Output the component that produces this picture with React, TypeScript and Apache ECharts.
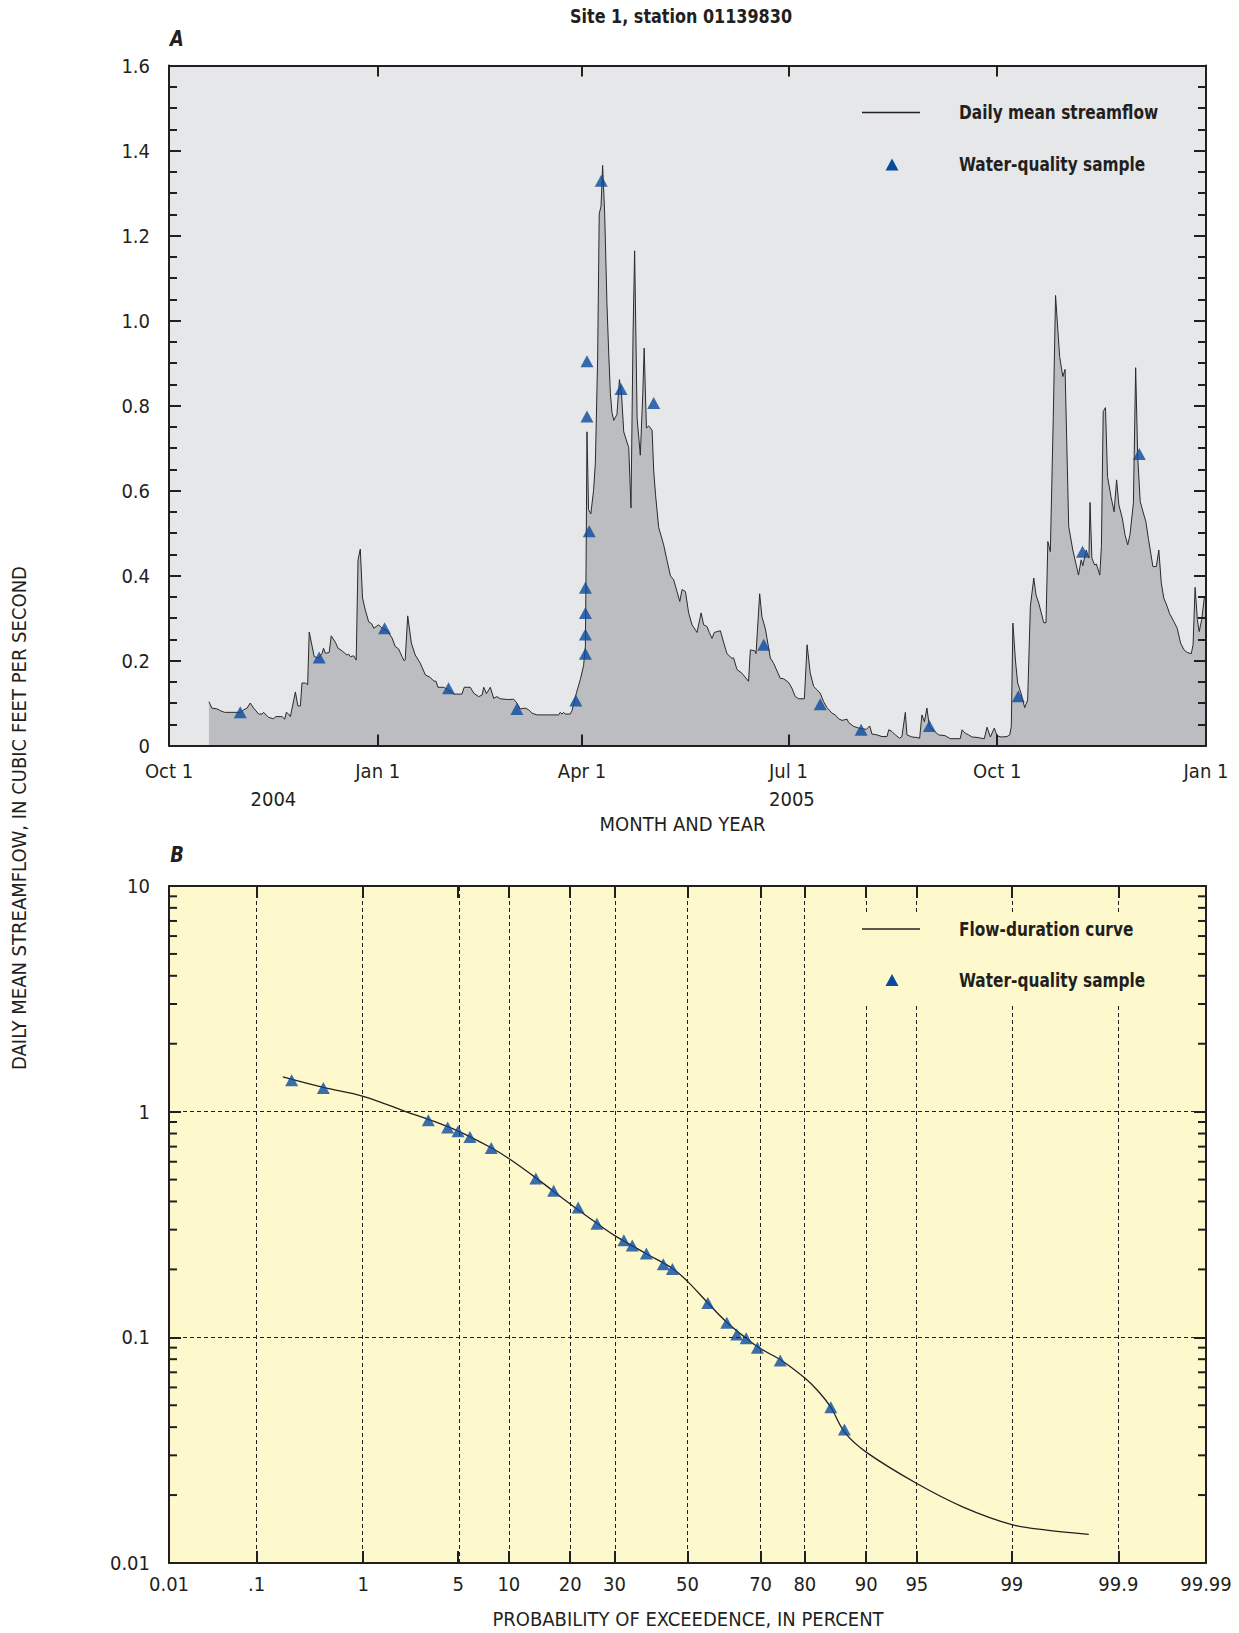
import React, { useEffect, useRef } from "react";
import * as echarts from "echarts";

const FONT = "'Liberation Sans Narrow', 'Arial Narrow', 'DejaVu Sans Condensed', 'Roboto Condensed', 'Liberation Sans', sans-serif";
const INK = "#231f20";
const BLUE = "#0a4a9f";
const BG_A = "#e6e7e8";
const FILL_A = "#bcbdc0";
const BG_B = "#fef9cc";

// ---------- Panel A: daily mean streamflow (days since 2004-10-01) ----------
const monthTickDays = [0, 92, 182, 273, 365, 457];
const monthTickLabels = ["Oct 1", "Jan 1", "Apr 1", "Jul 1", "Oct 1", "Jan 1"];
const yearLabelDays = [46, 274.5];
const yearLabels = ["2004", "2005"];

const flowDay = [
  17.6, 18.9, 21.2, 22.6, 24.5, 31.4, 32.9, 34.4, 35.8, 37.3, 39.5, 41.0, 41.7, 43.9, 46.1, 47.1, 49.8, 51.0, 51.7, 52.7,
  53.5, 55.7, 56.8, 57.9, 58.6, 60.1, 61.1, 61.8, 64.0, 65.9, 67.4, 68.1, 68.9, 70.6, 71.5, 73.3, 74.5, 76.2, 78.4, 79.2,
  79.9, 81.4, 82.5, 83.3, 84.3, 85.3, 86.5, 88.0, 89.4, 90.2, 92.4, 93.8, 96.1, 98.3, 99.7, 101.2, 102.7, 103.7, 104.1, 105.2,
  106.8, 108.5, 110.7, 113.0, 115.2, 116.6, 117.7, 118.5, 121.0, 123.2, 125.4, 129.1, 130.1, 132.8, 134.3, 136.5, 138.0, 138.7, 139.9, 141.6,
  143.1, 144.5, 146.0, 149.7, 151.9, 153.3, 154.8, 157.0, 158.5, 160.0, 162.2, 171.7, 172.4, 173.2, 173.9, 174.6, 176.8, 177.6, 179.1, 181.3,
  182.7, 183.5, 183.8, 184.2, 184.9, 185.9, 187.1, 187.9, 188.9, 189.6, 190.4, 191.1, 192.0, 193.0, 193.8, 194.5, 195.2, 196.0, 197.4, 198.5,
  199.4, 200.4, 202.6, 203.6, 204.5, 205.2, 206.3, 207.7, 208.8, 209.4, 210.4, 211.4, 212.9, 213.6, 214.4, 215.8, 218.0, 219.5, 221.0, 222.4,
  223.9, 225.1, 226.1, 227.6, 229.0, 230.5, 232.7, 234.5, 235.6, 237.1, 238.1, 239.3, 240.3, 243.0, 244.4, 245.9, 248.1, 248.8, 250.3, 252.5,
  253.9, 255.4, 256.2, 258.1, 258.7, 260.3, 261.3, 262.8, 265.0, 266.5, 269.4, 270.9, 273.1, 274.5, 276.0, 277.5, 280.0, 281.2, 282.6, 284.1,
  285.6, 287.0, 288.5, 290.0, 292.2, 293.6, 295.1, 296.6, 298.8, 299.5, 301.7, 303.9, 307.3, 308.8, 309.8, 312.0, 314.2, 316.4, 317.2, 318.6,
  320.1, 322.0, 323.0, 324.5, 325.2, 327.4, 329.6, 330.8, 331.8, 332.9, 334.0, 335.1, 337.0, 339.2, 342.1, 344.3, 348.7, 349.5, 350.9, 352.4,
  353.9, 356.1, 359.3, 360.5, 362.0, 363.7, 364.9, 366.7, 369.3, 370.5, 371.2, 371.9, 373.0, 374.0, 375.5, 377.1, 378.4, 379.6, 381.1, 382.1,
  383.3, 385.5, 386.5, 387.3, 388.4, 389.7, 390.7, 392.5, 393.9, 394.9, 396.5, 398.3, 399.8, 400.8, 402.0, 402.7, 404.2, 405.4, 405.9, 406.7,
  407.9, 408.7, 410.2, 410.9, 411.7, 412.7, 413.6, 415.1, 416.5, 417.6, 418.6, 420.1, 421.3, 422.5, 423.5, 425.0, 426.0, 426.9, 428.0, 429.4,
  430.5, 431.7, 433.6, 435.1, 436.2, 437.3, 438.4, 439.9, 440.9, 442.8, 444.3, 445.8, 447.3, 448.7, 450.5, 451.3, 452.2, 453.2, 454.0, 455.1,
  456.3, 457.0,
];
const flowCfs = [
  0.103, 0.088, 0.086, 0.082, 0.078, 0.078, 0.084, 0.088, 0.100, 0.088, 0.074, 0.074, 0.078, 0.066, 0.063, 0.068, 0.068, 0.062, 0.078, 0.074,
  0.068, 0.126, 0.093, 0.093, 0.147, 0.147, 0.143, 0.267, 0.209, 0.206, 0.216, 0.229, 0.217, 0.219, 0.258, 0.243, 0.229, 0.223, 0.213, 0.215,
  0.209, 0.211, 0.201, 0.437, 0.462, 0.347, 0.319, 0.291, 0.286, 0.276, 0.284, 0.276, 0.271, 0.253, 0.233, 0.227, 0.209, 0.199, 0.202, 0.305,
  0.241, 0.213, 0.194, 0.166, 0.160, 0.152, 0.151, 0.137, 0.137, 0.131, 0.121, 0.121, 0.137, 0.137, 0.123, 0.115, 0.119, 0.137, 0.122, 0.137,
  0.111, 0.115, 0.110, 0.108, 0.109, 0.100, 0.086, 0.088, 0.084, 0.076, 0.072, 0.072, 0.078, 0.074, 0.078, 0.074, 0.074, 0.082, 0.115, 0.156,
  0.188, 0.234, 0.417, 0.738, 0.555, 0.545, 0.600, 0.665, 0.912, 1.251, 1.269, 1.365, 1.251, 1.040, 0.921, 0.829, 0.784, 0.765, 0.779, 0.861,
  0.829, 0.738, 0.701, 0.559, 0.967, 1.164, 0.770, 0.683, 0.829, 0.935, 0.747, 0.752, 0.742, 0.646, 0.591, 0.513, 0.472, 0.435, 0.399, 0.390,
  0.362, 0.339, 0.367, 0.362, 0.312, 0.284, 0.266, 0.312, 0.284, 0.280, 0.266, 0.252, 0.266, 0.270, 0.243, 0.216, 0.205, 0.206, 0.179, 0.170,
  0.161, 0.151, 0.225, 0.223, 0.216, 0.357, 0.303, 0.275, 0.206, 0.193, 0.158, 0.157, 0.148, 0.135, 0.115, 0.110, 0.110, 0.237, 0.170, 0.139,
  0.131, 0.123, 0.103, 0.089, 0.076, 0.072, 0.063, 0.059, 0.062, 0.054, 0.045, 0.041, 0.038, 0.046, 0.027, 0.025, 0.021, 0.021, 0.037, 0.033,
  0.025, 0.017, 0.021, 0.078, 0.025, 0.020, 0.019, 0.017, 0.072, 0.056, 0.088, 0.045, 0.035, 0.025, 0.023, 0.016, 0.016, 0.037, 0.029, 0.025,
  0.020, 0.019, 0.016, 0.043, 0.020, 0.041, 0.023, 0.020, 0.021, 0.025, 0.045, 0.288, 0.201, 0.147, 0.123, 0.089, 0.107, 0.327, 0.394, 0.354,
  0.335, 0.289, 0.289, 0.480, 0.456, 0.774, 1.059, 0.915, 0.868, 0.885, 0.515, 0.460, 0.425, 0.401, 0.437, 0.423, 0.460, 0.441, 0.572, 0.441,
  0.425, 0.427, 0.401, 0.468, 0.786, 0.795, 0.633, 0.586, 0.550, 0.625, 0.566, 0.535, 0.496, 0.472, 0.496, 0.570, 0.889, 0.680, 0.574, 0.547,
  0.527, 0.484, 0.421, 0.421, 0.460, 0.382, 0.347, 0.327, 0.311, 0.292, 0.276, 0.241, 0.225, 0.219, 0.216, 0.237, 0.372, 0.296, 0.268, 0.296,
  0.350, 0.350,
];

const sampleDay = [31.4, 66.2, 95.0, 123.2, 153.3, 179.3, 183.5, 183.5, 183.5, 183.5, 185.2, 184.2, 184.2, 190.5, 199.2, 213.6, 262.1, 287.0, 305.0, 335.1, 374.3, 402.6, 427.6];
const sampleCfs = [0.078, 0.207, 0.276, 0.135, 0.086, 0.106, 0.216, 0.261, 0.312, 0.371, 0.504, 0.774, 0.904, 1.329, 0.839, 0.806, 0.237, 0.097, 0.037, 0.046, 0.116, 0.456, 0.686];

// ---------- Panel B: flow-duration curve ----------
const probTicks = [0.01, 0.1, 1, 5, 10, 20, 30, 50, 70, 80, 90, 95, 99, 99.9, 99.99];
const probTickLabels = ["0.01", ".1", "1", "5", "10", "20", "30", "50", "70", "80", "90", "95", "99", "99.9", "99.99"];
const probGridLines = [0.1, 1, 5, 10, 20, 30, 50, 70, 80, 90, 95, 99, 99.9];

const durationPct = [0.185, 0.45, 1, 2.38, 3.15, 5, 8, 10, 14, 20, 25.8, 30, 38.5, 45.7, 50, 55.8, 61, 66, 70, 75, 80, 82.5, 84.8, 87, 90, 95, 97.6, 99, 99.5, 99.8];
const durationCfs = [1.425, 1.28, 1.17, 0.98, 0.925, 0.82, 0.69, 0.62, 0.505, 0.39, 0.32, 0.283, 0.234, 0.202, 0.177, 0.142, 0.117, 0.1, 0.089, 0.079, 0.066, 0.058, 0.049, 0.038, 0.031, 0.0225, 0.0177, 0.0148, 0.014, 0.0134];

const samplePctB = [0.226, 0.45, 3.15, 4.27, 4.99, 5.93, 7.96, 13.84, 16.85, 21.65, 25.8, 32.4, 34.6, 38.4, 43.1, 45.7, 55.8, 61.1, 63.8, 66.3, 69.2, 74.7, 84.8, 86.98];
const sampleCfsB = [1.377, 1.274, 0.916, 0.85, 0.818, 0.772, 0.69, 0.506, 0.446, 0.376, 0.319, 0.269, 0.255, 0.235, 0.211, 0.201, 0.142, 0.116, 0.103, 0.099, 0.09, 0.079, 0.049, 0.039];

const logMinorTicks = [0.02, 0.03, 0.04, 0.05, 0.06, 0.07, 0.08, 0.09, 0.2, 0.3, 0.4, 0.5, 0.6, 0.7, 0.8, 0.9, 2, 3, 4, 5, 6, 7, 8, 9];

// inverse standard normal CDF (Acklam)
function normInv(p: number): number {
  const a = [-39.69683028665376, 220.9460984245205, -275.9285104469687, 138.357751867269, -30.66479806614716, 2.506628277459239];
  const b = [-54.47609879822406, 161.5858368580409, -155.6989798598866, 66.80131188771972, -13.28068155288572];
  const c = [-0.007784894002430293, -0.3223964580411365, -2.400758277161838, -2.549732539343734, 4.374664141464968, 2.938163982698783];
  const d = [0.007784695709041462, 0.3224671290700398, 2.445134137142996, 3.754408661907416];
  const pl = 0.02425;
  if (p < pl) {
    const q = Math.sqrt(-2 * Math.log(p));
    return (((((c[0] * q + c[1]) * q + c[2]) * q + c[3]) * q + c[4]) * q + c[5]) / ((((d[0] * q + d[1]) * q + d[2]) * q + d[3]) * q + 1);
  }
  if (p <= 1 - pl) {
    const q = p - 0.5;
    const r = q * q;
    return ((((((a[0] * r + a[1]) * r + a[2]) * r + a[3]) * r + a[4]) * r + a[5]) * q) / (((((b[0] * r + b[1]) * r + b[2]) * r + b[3]) * r + b[4]) * r + 1);
  }
  const q = Math.sqrt(-2 * Math.log(1 - p));
  return -(((((c[0] * q + c[1]) * q + c[2]) * q + c[3]) * q + c[4]) * q + c[5]) / ((((d[0] * q + d[1]) * q + d[2]) * q + d[3]) * q + 1);
}
const pz = (pct: number) => normInv(pct / 100);
const probZ = probTicks.map(pz);
const zMin = probZ[0];
const zMax = probZ[probZ.length - 1];

const labelStyle = { fontFamily: FONT, fontSize: 20, color: INK };

function buildOption() {
  const tickLine = { color: INK, width: 2 };
  const axisLineStyle = { show: true, onZero: false, lineStyle: { color: INK, width: 2 } };

  const monthFmt = (v: number) => {
    const i = monthTickDays.findIndex((d) => Math.abs(d - v) < 1e-6);
    return i >= 0 ? monthTickLabels[i] : "";
  };
  const yearFmt = (v: number) => {
    const i = yearLabelDays.findIndex((d) => Math.abs(d - v) < 1e-6);
    return i >= 0 ? yearLabels[i] : "";
  };
  const probFmt = (v: number) => {
    const i = probZ.findIndex((z) => Math.abs(z - v) < 1e-6);
    return i >= 0 ? probTickLabels[i] : "";
  };

  // ticks point into the plot: negative length flips the tick direction
  const xA = (position: string, labels: boolean) => ({
    type: "value",
    gridIndex: 0,
    position,
    min: 0,
    max: 457,
    z: 5,
    axisLine: axisLineStyle,
    axisTick: { show: true, inside: false, length: -11, customValues: monthTickDays, lineStyle: tickLine },
    axisLabel: labels
      ? { show: true, customValues: monthTickDays, formatter: monthFmt, margin: 15, ...labelStyle }
      : { show: false },
    splitLine: { show: false },
  });

  const xB = (position: string, labels: boolean) => ({
    type: "value",
    gridIndex: 1,
    position,
    min: zMin,
    max: zMax,
    z: 5,
    axisLine: axisLineStyle,
    axisTick: { show: true, inside: false, length: -12, customValues: probZ, lineStyle: tickLine },
    axisLabel: labels
      ? { show: true, customValues: probZ, formatter: probFmt, margin: 11, ...labelStyle }
      : { show: false },
    splitLine: { show: false },
  });

  const yA = (position: string, labels: boolean) => ({
    type: "value",
    gridIndex: 0,
    position,
    min: 0,
    max: 1.6,
    interval: 0.2,
    z: 5,
    axisLine: axisLineStyle,
    axisTick: { show: true, inside: false, length: -12, lineStyle: tickLine },
    minorTick: { show: true, splitNumber: 4, length: -8, lineStyle: tickLine },
    axisLabel: labels
      ? { show: true, margin: 19, formatter: (v: number) => (v === 0 ? "0" : v.toFixed(1)), ...labelStyle }
      : { show: false },
    splitLine: { show: false },
  });

  const yB = (position: string, labels: boolean) => ({
    type: "log",
    logBase: 10,
    gridIndex: 1,
    position,
    min: 0.01,
    max: 10,
    z: 5,
    axisLine: axisLineStyle,
    axisTick: { show: true, inside: false, length: -12, lineStyle: tickLine },
    axisLabel: labels
      ? { show: true, margin: 19, formatter: (v: number) => String(Number(v.toPrecision(3))), ...labelStyle }
      : { show: false },
    splitLine: labels ? { show: true, lineStyle: { color: INK, width: 1, type: [4, 3] } } : { show: false },
  });

  const triangle = (cx: number, cy: number) => ({
    type: "polygon",
    z: 12,
    shape: { points: [[cx, cy - 6], [cx - 6.5, cy + 6], [cx + 6.5, cy + 6]] },
    style: { fill: BLUE },
  });
  const txt = (text: string, x: number, y: number, extra: any = {}, el: any = {}) => ({
    type: "text",
    z: 12,
    x,
    y,
    ...el,
    style: {
      text,
      x: 0,
      y: 0,
      fill: INK,
      fontFamily: FONT,
      fontSize: 20,
      textAlign: "center",
      textVerticalAlign: "middle",
      align: "center",
      verticalAlign: "middle",
      ...extra,
    },
  });
  const bold = { fontWeight: "bold" };
  const boldLeft = { fontWeight: "bold", textAlign: "left", align: "left" };

  return {
    animation: false,
    backgroundColor: "#ffffff",
    grid: [
      { left: 169, top: 65.5, width: 1037, height: 680, show: true, backgroundColor: BG_A, borderWidth: 0 },
      { left: 169, top: 886, width: 1037, height: 677, show: true, backgroundColor: BG_B, borderWidth: 0 },
    ],
    xAxis: [
      xA("bottom", true),
      xA("top", false),
      {
        type: "value",
        gridIndex: 0,
        position: "bottom",
        min: 0,
        max: 457,
        axisLine: { show: false, onZero: false },
        axisTick: { show: false },
        axisLabel: { show: true, customValues: yearLabelDays, formatter: yearFmt, margin: 43, ...labelStyle },
        splitLine: { show: false },
      },
      xB("bottom", true),
      xB("top", false),
    ],
    yAxis: [yA("left", true), yA("right", false), yB("left", true), yB("right", false)],
    series: [
      {
        name: "Daily mean streamflow",
        type: "line",
        xAxisIndex: 0,
        yAxisIndex: 0,
        data: flowDay.map((d, i) => [d, flowCfs[i]]),
        symbol: "none",
        showSymbol: false,
        lineStyle: { color: "#2a2a2a", width: 1 },
        areaStyle: { color: FILL_A, opacity: 1 },
        z: 2,
      },
      {
        name: "Water-quality sample",
        type: "scatter",
        xAxisIndex: 0,
        yAxisIndex: 0,
        data: sampleDay.map((d, i) => [d, sampleCfs[i]]),
        symbol: "triangle",
        symbolSize: [13, 12],
        itemStyle: { color: BLUE },
        z: 3,
      },
      {
        name: "Flow-duration curve",
        type: "line",
        xAxisIndex: 3,
        yAxisIndex: 2,
        data: durationPct.map((p, i) => [pz(p), durationCfs[i]]),
        symbol: "none",
        showSymbol: false,
        smooth: 0.35,
        lineStyle: { color: INK, width: 1.3 },
        z: 3,
        markLine: {
          silent: true,
          symbol: ["none", "none"],
          label: { show: false },
          lineStyle: { color: INK, width: 1, type: [4, 3] },
          data: probGridLines.map((p) => ({ xAxis: pz(p) })),
          z: 1,
        },
      },
      {
        name: "Water-quality sample (duration)",
        type: "scatter",
        xAxisIndex: 3,
        yAxisIndex: 2,
        data: samplePctB.map((p, i) => [pz(p), sampleCfsB[i]]),
        symbol: "triangle",
        symbolSize: [13, 12],
        itemStyle: { color: BLUE },
        z: 4,
      },
      {
        name: "minor log ticks",
        type: "custom",
        xAxisIndex: 3,
        yAxisIndex: 2,
        silent: true,
        clip: false,
        z: 6,
        data: logMinorTicks.map((v) => [zMin, v]),
        encode: { x: 0, y: 1 },
        renderItem: (_params: any, api: any) => {
          const v = api.value(1);
          const pl = api.coord([zMin, v]);
          const pr = api.coord([zMax, v]);
          return {
            type: "group",
            children: [
              { type: "line", shape: { x1: pl[0], y1: pl[1], x2: pl[0] + 8, y2: pl[1] }, style: { stroke: INK, lineWidth: 2 } },
              { type: "line", shape: { x1: pr[0], y1: pr[1], x2: pr[0] - 8, y2: pr[1] }, style: { stroke: INK, lineWidth: 2 } },
            ],
          };
        },
      },
    ],
    graphic: [
      txt("Site 1, station 01139830", 681, 16, bold, { scaleX: 0.89 }),
      txt("A", 177, 38.5, { fontWeight: "bold", fontStyle: "italic", fontSize: 22 }, { scaleX: 0.9 }),
      txt("B", 177, 855, { fontWeight: "bold", fontStyle: "italic", fontSize: 22 }, { scaleX: 0.9 }),
      // legend A
      { type: "line", z: 12, shape: { x1: 862, y1: 112.5, x2: 920, y2: 112.5 }, style: { stroke: INK, lineWidth: 1.3 } },
      txt("Daily mean streamflow", 959, 112.5, boldLeft, { scaleX: 0.855 }),
      triangle(892, 164.5),
      txt("Water-quality sample", 959, 164.5, boldLeft, { scaleX: 0.855 }),
      // legend B
      { type: "rect", z: 11, shape: { x: 845, y: 913, width: 300, height: 92 }, style: { fill: BG_B } },
      { type: "line", z: 12, shape: { x1: 862, y1: 929, x2: 920, y2: 929 }, style: { stroke: INK, lineWidth: 1.3 } },
      txt("Flow-duration curve", 959, 929, boldLeft, { scaleX: 0.855 }),
      triangle(892, 980),
      txt("Water-quality sample", 959, 980, boldLeft, { scaleX: 0.855 }),
      // axis titles
      txt("MONTH AND YEAR", 682.5, 824),
      txt("PROBABILITY OF EXCEEDENCE, IN PERCENT", 688, 1619),
      txt("DAILY MEAN STREAMFLOW, IN CUBIC FEET PER SECOND", 19, 818, {}, { rotation: Math.PI / 2 }),
    ],
  };
}

export default function App() {
  const ref = useRef<HTMLDivElement>(null);
  useEffect(() => {
    if (!ref.current) return;
    const chart = echarts.init(ref.current, null, { renderer: "svg" });
    chart.setOption(buildOption() as any);
    return () => chart.dispose();
  }, []);
  return (
    <div
      ref={ref}
      style={{ position: "absolute", left: 0, top: 0, width: 1239, height: 1633, background: "#ffffff" }}
    />
  );
}
